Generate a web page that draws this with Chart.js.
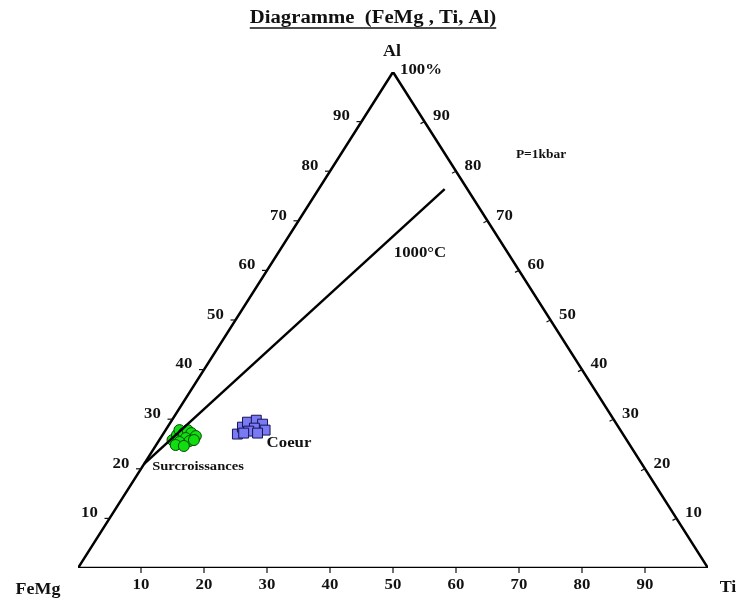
<!DOCTYPE html>
<html>
<head>
<meta charset="utf-8">
<script src="https://cdn.jsdelivr.net/npm/chart.js@4.4.0/dist/chart.umd.min.js"></script>
<style>
  body { margin: 0; background: #fff; }
  #wrap { width: 736px; height: 599px; position: relative; }
</style>
</head>
<body>
<div id="wrap"><canvas id="mycanvas"></canvas></div>
<script>
// compositions in % (Ti, Al); FeMg = 100 - Ti - Al
var surcTi = [2.1, 2.3, 2.2, 3.2, 3.5, 4.4, 5.4, 4.0, 3.4, 4.9, 3.1, 4.5, 5.5];
var surcAl = [25.8, 26.8, 27.8, 27.2, 27.8, 27.2, 26.6, 26.2, 25.4, 25.6, 24.8, 24.6, 25.8];
var coeurTi = [11.8, 11.9, 12.2, 13.4, 14.8, 15.8, 13.9, 13.3, 14.9, 12.7];
var coeurAl = [27.0, 28.4, 29.4, 29.8, 29.0, 27.8, 28.2, 27.6, 27.2, 27.2];
var isoTi = [0, 20];      // 1000°C line
var isoAl = [21, 76.4];
var tickValues = [10, 20, 30, 40, 50, 60, 70, 80, 90];

function toXY(ti, al) {
  return { x: ti + al / 2, y: al };
}
function points(tiArr, alArr) {
  var out = [];
  for (var i in tiArr) out.push(toXY(tiArr[i], alArr[i]));
  return out;
}

var triangle = [toXY(0, 0), toXY(100, 0), toXY(0, 100), toXY(0, 0)];

// text is a bit wider than the font in the original picture
function wideText(ctx, t, x, y) {
  ctx.save();
  ctx.translate(x, y);
  ctx.scale(1.12, 1);
  ctx.fillText(t, 0, 0);
  ctx.restore();
}

var labelsPlugin = {
  id: 'labels',
  afterDraw: function(chart) {
    var ctx = chart.ctx;
    var sx = chart.scales.x, sy = chart.scales.y;
    function px(ti, al) {
      var p = toXY(ti, al);
      return [sx.getPixelForValue(p.x), sy.getPixelForValue(p.y)];
    }
    ctx.save();
    ctx.fillStyle = '#111';
    ctx.strokeStyle = '#111';
    ctx.lineWidth = 1.2;
    ctx.textAlign = 'center';
    ctx.textBaseline = 'middle';
    ctx.font = 'bold 15px "Liberation Serif"';
    for (var i in tickValues) {
      var v = tickValues[i];
      // bottom edge (Ti)
      var b = px(v, 0);
      ctx.beginPath(); ctx.moveTo(b[0], b[1]); ctx.lineTo(b[0], b[1] + 5); ctx.stroke();
      wideText(ctx, String(v), b[0], b[1] + 17);
      // left edge (Al)
      var l = px(0, v);
      ctx.beginPath(); ctx.moveTo(l[0] - 5, l[1]); ctx.lineTo(l[0], l[1]); ctx.stroke();
      wideText(ctx, String(v), l[0] - 20, l[1] - 5);
      // right edge (Al)
      var r = px(100 - v, v);
      ctx.beginPath(); ctx.moveTo(r[0] - 4, r[1] + 2); ctx.lineTo(r[0], r[1]); ctx.stroke();
      wideText(ctx, String(v), r[0] + 17, r[1] - 5);
    }
    // title
    ctx.font = 'bold 18.5px "Liberation Serif"';
    var title = 'Diagramme  (FeMg , Ti, Al)';
    wideText(ctx, title, 373, 18);
    var w = ctx.measureText(title).width * 1.12;
    ctx.lineWidth = 1.4;
    ctx.beginPath(); ctx.moveTo(373 - w / 2, 28); ctx.lineTo(373 + w / 2, 28); ctx.stroke();

    ctx.font = 'bold 16px "Liberation Serif"';
    wideText(ctx, 'Al', 392, 52);
    wideText(ctx, 'FeMg', 38, 590);
    wideText(ctx, 'Ti', 728, 588);
    ctx.font = 'bold 15px "Liberation Serif"';
    wideText(ctx, '100%', 421, 70);
    wideText(ctx, '1000°C', 420, 253);
    wideText(ctx, 'Coeur', 289, 443);
    ctx.font = 'bold 13px "Liberation Serif"';
    wideText(ctx, 'Surcroissances', 198, 467);
    ctx.font = 'bold 12px "Liberation Serif"';
    wideText(ctx, 'P=1kbar', 541, 155);
    ctx.restore();
  }
};

var ctx = document.getElementById('mycanvas');
var chart = new Chart(ctx, {
  type: 'scatter',
  data: {
    datasets: [
      {
        label: 'triangle',
        data: triangle,
        showLine: true,
        borderColor: '#000',
        borderWidth: 2.5,
        pointRadius: 0,
        fill: false
      },
      {
        label: '1000°C',
        data: points(isoTi, isoAl),
        showLine: true,
        borderColor: '#000',
        borderWidth: 2.5,
        pointRadius: 0,
        fill: false
      },
      {
        label: 'Surcroissances',
        data: points(surcTi, surcAl),
        pointStyle: 'circle',
        pointRadius: 5.5,
        backgroundColor: '#11dd11',
        borderColor: '#004a00',
        borderWidth: 1
      },
      {
        label: 'Coeur',
        data: points(coeurTi, coeurAl),
        pointStyle: 'rect',
        pointRadius: 7,
        backgroundColor: '#7a7af2',
        borderColor: '#14145a',
        borderWidth: 1
      }
    ]
  },
  options: {
    responsive: true,
    maintainAspectRatio: false,
    animation: false,
    layout: { padding: { left: 78, right: 28, top: 72, bottom: 31 } },
    plugins: { legend: { display: false }, tooltip: { enabled: false } },
    scales: {
      x: { type: 'linear', min: 0, max: 100, display: false },
      y: { type: 'linear', min: 0, max: 100, display: false }
    }
  },
  plugins: [labelsPlugin]
});
</script>
</body>
</html>
